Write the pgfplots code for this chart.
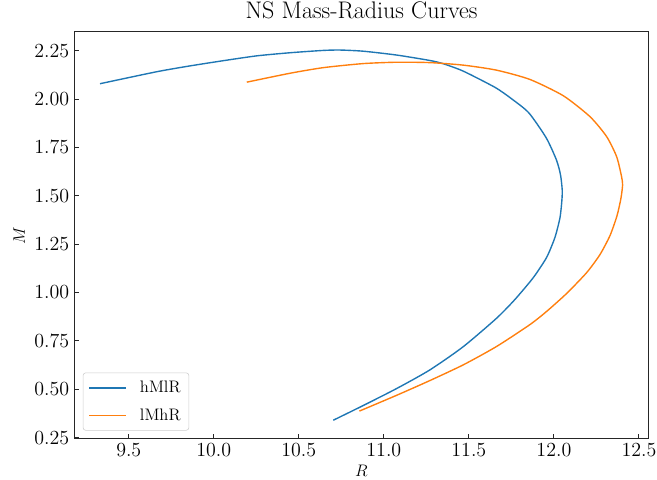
\documentclass[border=0pt]{standalone}
\usepackage{pgfplots}
\pgfplotsset{compat=1.18}
\definecolor{tabblue}{HTML}{1F77B4}
\definecolor{taborange}{HTML}{FF7F0E}
\begin{document}
\begin{tikzpicture}
\begin{axis}[
  scale only axis, width=414pt, height=293.3pt,
  xmin=9.178, xmax=12.559, ymin=0.243, ymax=2.348,
  xtick={9.5,10,10.5,11,11.5,12,12.5},
  ytick={0.25,0.5,0.75,1,1.25,1.5,1.75,2,2.25},
  xticklabel style={/pgf/number format/.cd, fixed, fixed zerofill, precision=1},
  yticklabel style={/pgf/number format/.cd, fixed, fixed zerofill, precision=2},
  tick align=inside, tick pos=left, major tick length=3.5pt,
  tick style={black!85, line width=0.6pt},
  axis line style={black!85, line width=0.7pt},
  ticklabel style={font=\fontsize{14.4}{17}\selectfont},
  title={NS Mass-Radius Curves},
  title style={font=\fontsize{17.28}{20}\selectfont, at={(axis description cs:0.5,1)}, anchor=base, yshift=3.6pt},
  xlabel={$R$}, ylabel={$M$},
  xlabel style={font=\fontsize{13}{15}\selectfont, at={([yshift=-27.3pt]axis description cs:0.5,0)}, anchor=base},
  ylabel style={font=\fontsize{13}{15}\selectfont, at={([xshift=-35.3pt]axis description cs:0,0.5)}, anchor=base},
  legend cell align=left,
  legend style={at={(axis description cs:0,0)}, anchor=south west, xshift=6.3pt, yshift=6pt,
    draw=black!20, rounded corners=2pt, font=\fontsize{12}{14}\selectfont,
    inner xsep=4pt, inner ysep=1pt},
  legend image code/.code={\path (0pt,-9.36pt) (34pt,9.36pt); \draw[#1] (0pt,0pt) -- (26.6pt,0pt);},
]
\addplot[tabblue, line width=1pt, smooth, tension=0.4] coordinates {
(10.703,0.340) (10.879,0.416) (11.076,0.504) (11.271,0.600) (11.467,0.720)
(11.663,0.867) (11.771,0.964) (11.879,1.077) (11.957,1.181) (12.006,1.284)
(12.036,1.387) (12.047,1.476) (12.049,1.530) (12.039,1.608) (12.015,1.685)
(11.955,1.799) (11.853,1.928) (11.753,2.000) (11.654,2.060) (11.467,2.144)
(11.350,2.182) (11.271,2.199) (11.076,2.227) (10.879,2.247) (10.742,2.253)
(10.644,2.251) (10.448,2.239) (10.253,2.223) (10.056,2.198) (9.860,2.171)
(9.665,2.141) (9.331,2.079)
};
\addlegendentry{hMlR}
\addplot[taborange, line width=1pt, smooth, tension=0.4] coordinates {
(10.856,0.387) (11.076,0.469) (11.271,0.545) (11.467,0.626) (11.663,0.721)
(11.859,0.834) (11.957,0.902) (12.075,0.995) (12.193,1.103) (12.271,1.196)
(12.330,1.294) (12.371,1.396) (12.394,1.485) (12.404,1.555) (12.398,1.599)
(12.369,1.702) (12.310,1.806) (12.212,1.909) (12.055,2.017) (11.859,2.101)
(11.663,2.149) (11.467,2.175) (11.271,2.188) (11.076,2.190) (10.879,2.183)
(10.644,2.162) (10.448,2.133) (10.194,2.087)
};
\addlegendentry{lMhR}
\end{axis}
\pgfresetboundingbox
\path[use as bounding box] ([shift={(-53.3pt,-29.5pt)}]current axis.south west) rectangle ([shift={(5.8pt,22.8pt)}]current axis.north east);
\end{tikzpicture}
\end{document}
